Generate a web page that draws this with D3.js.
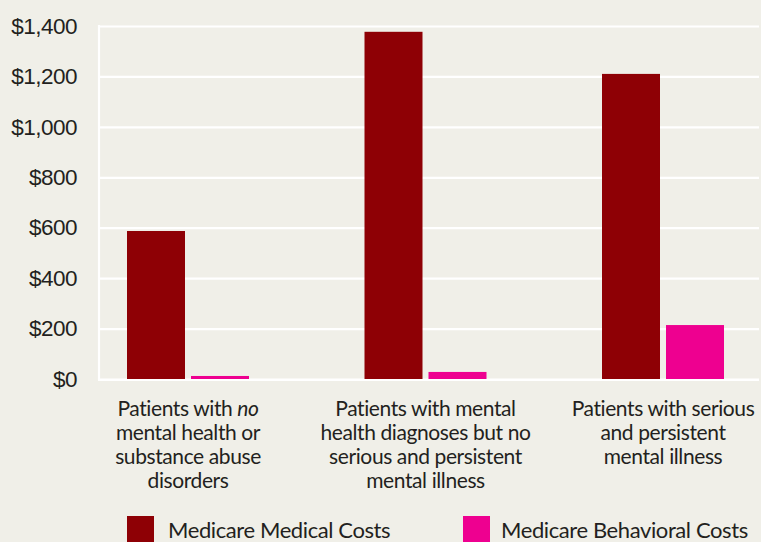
<!DOCTYPE html>
<html><head><meta charset="utf-8">
<script src="https://cdn.jsdelivr.net/npm/d3@7"></script>
<style>
html,body{margin:0;padding:0;background:#f0efe8;}
svg{display:block;font-family:Lato,"Open Sans",sans-serif;}
</style></head>
<body>
<svg id="c" width="761" height="542"></svg>
<script>
const categories = [
  ["Patients with |no|", "mental health or", "substance abuse", "disorders"],
  ["Patients with mental", "health diagnoses but no", "serious and persistent", "mental illness"],
  ["Patients with serious", "and persistent", "mental illness"]
];
const seriesNames = ["Medicare Medical Costs", "Medicare Behavioral Costs"];
const medical = [587, 1377, 1210];
const behavioral = [12, 28, 214];
const yTicks = [0, 200, 400, 600, 800, 1000, 1200, 1400];
const colors = ["#8e0005", "#ee0090"];

const svg = d3.select("#c");
const W = 761, H = 542;
svg.append("rect").attr("width", W).attr("height", H).attr("fill", "#f0efe8");

const plotL = 99, plotR = 759, y0 = 379, yTop = 26;
const y = d3.scaleLinear().domain([0, 1400]).range([y0, yTop]);
const x = d3.scalePoint().domain(d3.range(categories.length)).range([188, 663]);
const xs = d3.scaleBand().domain([0, 1]).range([-61, 61]).paddingInner(6/64).paddingOuter(0);

// gridlines
const yAxis = d3.axisLeft(y).tickValues(yTicks).tickSize(-(plotR - plotL)).tickPadding(22)
  .tickFormat(d => "$" + d3.format(",")(d));
const gy = svg.append("g").attr("transform", `translate(${plotL},0)`).call(yAxis);
gy.select(".domain").remove();
gy.selectAll(".tick line").attr("stroke", "#ffffff").attr("stroke-width", 2.2);
gy.selectAll(".tick text").attr("fill", "#231f20").attr("font-size", 22.5).attr("letter-spacing", -0.5);

// left axis line
svg.append("line").attr("x1", plotL).attr("x2", plotL).attr("y1", yTop - 1).attr("y2", y0 + 1)
  .attr("stroke", "#fff").attr("stroke-width", 2.2);

// bars
const data = categories.map((c, i) => [medical[i], behavioral[i]]);
const groups = svg.append("g").selectAll("g").data(data).join("g")
  .attr("transform", (d, i) => `translate(${x(i)},0)`);
groups.selectAll("rect").data(d => d).join("rect")
  .attr("x", (d, j) => xs(j))
  .attr("width", xs.bandwidth())
  .attr("y", d => y(d))
  .attr("height", d => y0 - y(d))
  .attr("fill", (d, j) => colors[j]);

// bottom axis line
svg.append("line").attr("x1", plotL - 1).attr("x2", plotR).attr("y1", y0 + 1).attr("y2", y0 + 1)
  .attr("stroke", "#fff").attr("stroke-width", 2.2);

// category labels
categories.forEach((lines, i) => {
  const t = svg.append("text").attr("text-anchor", "middle").attr("fill", "#231f20")
    .attr("font-size", 21).attr("letter-spacing", -0.4);
  lines.forEach((ln, k) => {
    const ts = t.append("tspan").attr("x", x(i)).attr("y", 416 + k * 24);
    const parts = ln.split("|");
    parts.forEach((p, m) => {
      if (!p) return;
      const s = ts.append("tspan").text(p);
      if (m === 1) s.attr("font-style", "italic");
    });
  });
});

// legend
const legX = [127, 463];
const legTextX = [168, 501];
seriesNames.forEach((n, j) => {
  svg.append("rect").attr("x", legX[j]).attr("y", 516).attr("width", 27).attr("height", 30).attr("fill", colors[j]);
  svg.append("text").attr("x", legTextX[j]).attr("y", 538).attr("fill", "#231f20")
    .attr("font-size", 22).attr("letter-spacing", -0.4).text(n);
});
</script>
</body></html>
